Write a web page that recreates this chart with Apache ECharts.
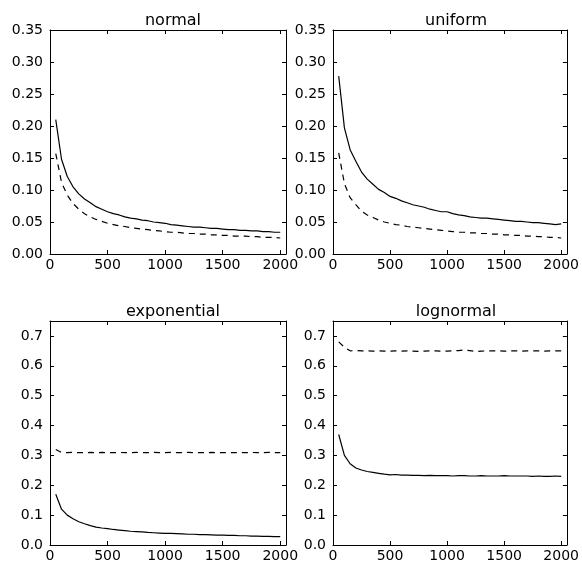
<!DOCTYPE html>
<html>
<head>
<meta charset="utf-8">
<script src="https://cdn.jsdelivr.net/npm/echarts@6/dist/echarts.min.js"></script>
<style>
  html, body { margin: 0; padding: 0; background: #fff; }
  #chart { width: 582px; height: 566px; }
</style>
</head>
<body>
<div id="chart"></div>
<script>
// sample sizes (x values)
const sampleSizes = [
    50, 100, 150, 200, 250, 300, 350, 400, 450, 500,
    550, 600, 650, 700, 750, 800, 850, 900, 950, 1000,
    1050, 1100, 1150, 1200, 1250, 1300, 1350, 1400, 1450, 1500,
    1550, 1600, 1650, 1700, 1750, 1800, 1850, 1900, 1950, 2000
];

const panelTitles = ['normal', 'uniform', 'exponential', 'lognormal'];

const normalSolid = [
    0.210, 0.148, 0.121, 0.105, 0.094, 0.086, 0.080, 0.074, 0.070, 0.066,
    0.063, 0.061, 0.058, 0.056, 0.055, 0.053, 0.052, 0.050, 0.049, 0.048,
    0.046, 0.045, 0.044, 0.043, 0.042, 0.042, 0.041, 0.040, 0.040, 0.039,
    0.038, 0.038, 0.037, 0.037, 0.036, 0.036, 0.035, 0.035, 0.034, 0.034
];
const normalDashed = [
    0.157, 0.112, 0.092, 0.079, 0.070, 0.063, 0.058, 0.054, 0.051, 0.048,
    0.046, 0.044, 0.043, 0.041, 0.040, 0.039, 0.038, 0.037, 0.036, 0.035,
    0.034, 0.034, 0.033, 0.032, 0.032, 0.031, 0.031, 0.030, 0.030, 0.029,
    0.029, 0.028, 0.028, 0.028, 0.027, 0.027, 0.026, 0.026, 0.026, 0.025
];
const uniformSolid = [
    0.278, 0.197, 0.163, 0.145, 0.128, 0.117, 0.109, 0.101, 0.096, 0.090,
    0.087, 0.083, 0.080, 0.077, 0.075, 0.073, 0.070, 0.068, 0.066, 0.066,
    0.063, 0.061, 0.060, 0.058, 0.057, 0.056, 0.056, 0.055, 0.054, 0.053,
    0.052, 0.051, 0.051, 0.050, 0.049, 0.049, 0.048, 0.047, 0.046, 0.047
];
const uniformDashed = [
    0.158, 0.110, 0.088, 0.077, 0.067, 0.061, 0.057, 0.053, 0.050, 0.048,
    0.046, 0.045, 0.043, 0.042, 0.041, 0.040, 0.039, 0.038, 0.037, 0.036,
    0.035, 0.034, 0.034, 0.033, 0.033, 0.032, 0.032, 0.031, 0.031, 0.030,
    0.030, 0.029, 0.029, 0.028, 0.028, 0.027, 0.027, 0.026, 0.026, 0.025
];
const exponentialSolid = [
    0.170, 0.120, 0.100, 0.088, 0.078, 0.071, 0.065, 0.060, 0.057, 0.055,
    0.052, 0.050, 0.048, 0.046, 0.045, 0.044, 0.042, 0.041, 0.040, 0.039,
    0.039, 0.038, 0.037, 0.036, 0.036, 0.035, 0.035, 0.034, 0.033, 0.033,
    0.032, 0.032, 0.031, 0.031, 0.030, 0.030, 0.029, 0.029, 0.028, 0.028
];
const exponentialDashed = [
    0.320, 0.310, 0.309, 0.310, 0.309, 0.309, 0.310, 0.309, 0.310, 0.309,
    0.309, 0.310, 0.309, 0.309, 0.310, 0.309, 0.309, 0.310, 0.309, 0.309,
    0.310, 0.309, 0.309, 0.310, 0.309, 0.309, 0.309, 0.310, 0.309, 0.309,
    0.310, 0.309, 0.309, 0.309, 0.310, 0.309, 0.309, 0.310, 0.309, 0.309
];
const lognormalSolid = [
    0.370, 0.300, 0.272, 0.258, 0.251, 0.246, 0.243, 0.240, 0.237, 0.235,
    0.236, 0.234, 0.234, 0.233, 0.233, 0.232, 0.233, 0.232, 0.232, 0.232,
    0.231, 0.232, 0.232, 0.231, 0.231, 0.232, 0.231, 0.231, 0.231, 0.232,
    0.231, 0.231, 0.231, 0.231, 0.230, 0.231, 0.230, 0.230, 0.231, 0.230
];
const lognormalDashed = [
    0.680, 0.662, 0.650, 0.651, 0.650, 0.650, 0.649, 0.650, 0.649, 0.649,
    0.650, 0.649, 0.650, 0.649, 0.648, 0.649, 0.650, 0.650, 0.649, 0.649,
    0.650, 0.651, 0.653, 0.651, 0.648, 0.649, 0.650, 0.650, 0.650, 0.649,
    0.650, 0.650, 0.649, 0.650, 0.650, 0.650, 0.649, 0.650, 0.650, 0.650
];

const solidSets = [normalSolid, uniformSolid, exponentialSolid, lognormalSolid];
const dashedSets = [normalDashed, uniformDashed, exponentialDashed, lognormalDashed];

const FONT = 'DejaVu Sans';

// panel boxes in px
const panels = [
    { left: 50, top: 30, yMax: 0.35, yStep: 0.05, digits: 2 },
    { left: 333, top: 30, yMax: 0.35, yStep: 0.05, digits: 2 },
    { left: 50, top: 321, yMax: 0.75, yStep: 0.1, digits: 1 },
    { left: 333, top: 321, yMax: 0.75, yStep: 0.1, digits: 1 }
];
const PANEL_W = 236;
const PANEL_H = 224;

const lineStyle = { color: '#000', width: 1 };
const tickFont = { fontFamily: FONT, fontSize: 14, color: '#000' };

const grid = [];
const xAxis = [];
const yAxis = [];
const series = [];
const title = [];

panels.forEach((p, i) => {
    grid.push({ left: p.left, top: p.top, width: PANEL_W, height: PANEL_H, containLabel: false });

    title.push({
        text: panelTitles[i],
        left: p.left + PANEL_W / 2,
        top: p.top - 22,
        textAlign: 'center',
        textStyle: { fontFamily: FONT, fontSize: 16, fontWeight: 'normal', color: '#000' }
    });

    const xBase = {
        type: 'value',
        gridIndex: i,
        min: 0,
        max: 2050,
        interval: 500,
        axisLine: { show: true, onZero: false, lineStyle },
        axisTick: { show: true, inside: true, length: 4, lineStyle },
        splitLine: { show: false }
    };
    xAxis.push(Object.assign({}, xBase, {
        position: 'bottom',
        axisLabel: Object.assign({
            show: true, showMaxLabel: false, margin: 4,
            formatter: v => String(v)
        }, tickFont)
    }));
    xAxis.push(Object.assign({}, xBase, {
        position: 'top',
        axisLabel: { show: false }
    }));

    const yBase = {
        type: 'value',
        gridIndex: i,
        min: 0,
        max: p.yMax,
        interval: p.yStep,
        axisLine: { show: true, onZero: false, lineStyle },
        axisTick: { show: true, inside: true, length: 4, lineStyle },
        splitLine: { show: false }
    };
    yAxis.push(Object.assign({}, yBase, {
        position: 'left',
        axisLabel: Object.assign({
            show: true, margin: 7,
            showMaxLabel: p.digits === 2,
            formatter: v => v.toFixed(p.digits)
        }, tickFont)
    }));
    yAxis.push(Object.assign({}, yBase, {
        position: 'right',
        axisLabel: { show: false }
    }));

    series.push({
        type: 'line',
        xAxisIndex: i * 2,
        yAxisIndex: i * 2,
        data: sampleSizes.map((n, k) => [n, solidSets[i][k]]),
        showSymbol: false,
        symbol: 'none',
        lineStyle: { color: '#000', width: 1.2 },
        silent: true
    });
    series.push({
        type: 'line',
        xAxisIndex: i * 2,
        yAxisIndex: i * 2,
        data: sampleSizes.map((n, k) => [n, dashedSets[i][k]]),
        showSymbol: false,
        symbol: 'none',
        lineStyle: { color: '#000', width: 1.2, type: [6, 5] },
        silent: true
    });
});

const chart = echarts.init(document.getElementById('chart'), null, { renderer: 'canvas' });
chart.setOption({
    backgroundColor: '#fff',
    animation: false,
    title,
    grid,
    xAxis,
    yAxis,
    series
});
</script>
</body>
</html>
